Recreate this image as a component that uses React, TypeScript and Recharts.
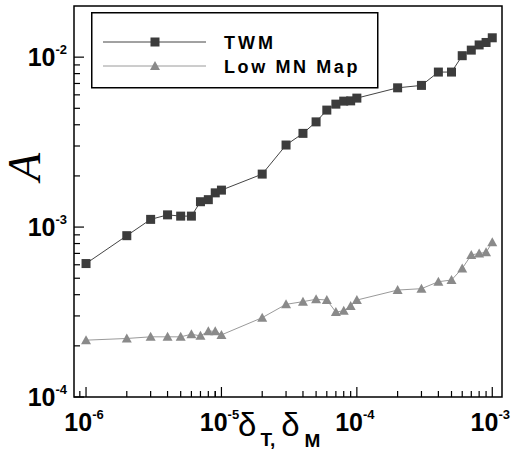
import {
  LineChart,
  Line,
  XAxis,
  YAxis,
  Legend,
  ReferenceArea,
} from "recharts"

// delta values (x) shared by both series
const deltas = [
  1e-6, 2e-6, 3e-6, 4e-6, 5e-6, 6e-6, 7e-6, 8e-6, 9e-6,
  1e-5, 2e-5, 3e-5, 4e-5, 5e-5, 6e-5, 7e-5, 8e-5, 9e-5,
  1e-4, 2e-4, 3e-4, 4e-4, 5e-4, 6e-4, 7e-4, 8e-4, 9e-4,
  1e-3,
]

const twm = [
  6.1e-4, 8.9e-4, 1.11e-3, 1.18e-3, 1.16e-3, 1.16e-3, 1.41e-3, 1.45e-3, 1.59e-3,
  1.65e-3, 2.05e-3, 3.04e-3, 3.56e-3, 4.16e-3, 4.88e-3, 5.29e-3, 5.51e-3, 5.53e-3,
  5.74e-3, 6.6e-3, 6.82e-3, 8.17e-3, 8.17e-3, 1.02e-2, 1.1e-2, 1.18e-2, 1.22e-2,
  1.3e-2,
]

const lowMnMap = [
  2.16e-4, 2.21e-4, 2.26e-4, 2.26e-4, 2.26e-4, 2.34e-4, 2.29e-4, 2.44e-4, 2.44e-4,
  2.32e-4, 2.93e-4, 3.51e-4, 3.64e-4, 3.76e-4, 3.72e-4, 3.16e-4, 3.22e-4, 3.43e-4,
  3.72e-4, 4.26e-4, 4.34e-4, 4.77e-4, 4.88e-4, 5.71e-4, 6.85e-4, 7.0e-4, 7.1e-4,
  8.13e-4,
]

const xMajor = [1e-6, 1e-5, 1e-4, 1e-3]
const yMajor = [1e-4, 1e-3, 1e-2]
const xDomain = [8.15e-7, 1.18e-3]
const yDomain = [1e-4, 2e-2]

const withMinors = (majors: number[], lo: number, hi: number) => {
  const out: number[] = []
  majors.forEach((m) => {
    for (let k = 1; k < 10; k++) out.push(m * k)
    out.push(m / 10 * 9)
  })
  return Array.from(new Set(out)).filter((v) => v > lo && v < hi).sort((a, b) => a - b)
}

const xTicks = withMinors(xMajor, xDomain[0] * 1.01, xDomain[1])
const yTicks = withMinors(yMajor, yDomain[0] * 0.99, yDomain[1] * 0.99)

const data = deltas.map((d, i) => ({ d, twm: twm[i], low: lowMnMap[i] }))

const FONT = "'Liberation Sans', Arial, sans-serif"

const isMajor = (v: number) => Math.abs(Math.log10(v) - Math.round(Math.log10(v))) < 1e-6

const XTick = (props: any) => {
  const { x, y, payload } = props
  const v = payload.value
  const major = isMajor(v)
  return (
    <g>
      <line x1={x} x2={x} y1={y} y2={y - (major ? 10 : 6)} stroke="#000" strokeWidth={1.2} />
      {major && (
        <text x={x - 2} y={y + 34} textAnchor="middle" fontFamily={FONT} fontSize={25} fontWeight="bold" fill="#000">
          10<tspan fontSize={13} dy={-12}>{String(Math.round(Math.log10(v)))}</tspan>
        </text>
      )}
    </g>
  )
}

const YTick = (props: any) => {
  const { x, y, payload } = props
  const v = payload.value
  const major = isMajor(v)
  return (
    <g>
      <line x1={x} x2={x + (major ? 10 : 6)} y1={y} y2={y} stroke="#000" strokeWidth={1.2} />
      {major && (
        <text x={x - 7} y={y + 9} textAnchor="end" fontFamily={FONT} fontSize={25} fontWeight="bold" fill="#000">
          10<tspan fontSize={13} dy={-12}>{String(Math.round(Math.log10(v)))}</tspan>
        </text>
      )}
    </g>
  )
}

const Square = (p: any) => {
  if (p.cx == null) return null
  return <rect key={p.index} x={p.cx - 4.5} y={p.cy - 4.5} width={9} height={9} fill="#3c3c3c" />
}

const Triangle = (p: any) => {
  if (p.cx == null) return null
  const { cx, cy } = p
  return (
    <polygon
      key={p.index}
      points={`${cx},${cy - 5} ${cx - 5},${cy + 4} ${cx + 5},${cy + 4}`}
      fill="#8a8a8a"
    />
  )
}

const LegendBox = () => (
  <svg width={288} height={77} style={{ display: "block" }}>
    <rect x={0.75} y={0.75} width={286} height={75} fill="#fff" stroke="#000" strokeWidth={1.5} />
    <line x1={12} x2={115} y1={30} y2={30} stroke="#444" strokeWidth={1} />
    <rect x={59.5} y={25.5} width={9} height={9} fill="#3c3c3c" />
    <line x1={12} x2={115} y1={54} y2={54} stroke="#9a9a9a" strokeWidth={1} />
    <polygon points="64,49 59,58 69,58" fill="#8a8a8a" />
    <text x={133} y={37} fontFamily={FONT} fontSize={18} fontWeight="bold" letterSpacing={3} fill="#000">
      TWM
    </text>
    <text x={133} y={61} fontFamily={FONT} fontSize={18} fontWeight="bold" letterSpacing={2.6} fill="#000">
      Low MN Map
    </text>
  </svg>
)

export default function App() {
  return (
    <div style={{ position: "absolute", left: 0, top: 0, width: 512, height: 451, background: "#fff" }}>
      <LineChart width={512} height={451} data={data} margin={{ top: 6, right: 10, left: 0, bottom: 0 }}>
        <XAxis
          dataKey="d"
          type="number"
          scale="log"
          domain={xDomain}
          allowDataOverflow
          ticks={xTicks}
          interval={0}
          tick={<XTick />}
          tickLine={false}
          tickSize={0}
          tickMargin={0}
          axisLine={false}
          height={54}
        />
        <YAxis
          type="number"
          scale="log"
          domain={yDomain}
          allowDataOverflow
          ticks={yTicks}
          interval={0}
          tick={<YTick />}
          tickLine={false}
          tickSize={0}
          tickMargin={0}
          axisLine={false}
          width={74}
        />
        <Legend
          layout="vertical"
          align="center"
          verticalAlign="middle"
          content={<LegendBox />}
          wrapperStyle={{ position: "absolute", left: 91, top: 12, width: 288, height: 77 }}
        />
        <Line
          dataKey="low"
          name="Low MN Map"
          stroke="#9a9a9a"
          strokeWidth={1}
          dot={<Triangle />}
          isAnimationActive={false}
        />
        <Line
          dataKey="twm"
          name="TWM"
          stroke="#444"
          strokeWidth={1}
          dot={<Square />}
          isAnimationActive={false}
        />
        <ReferenceArea
          x1={xDomain[0]}
          x2={xDomain[1]}
          y1={yDomain[0]}
          y2={yDomain[1]}
          fill="none"
          stroke="#000"
          strokeWidth={1.5}
          ifOverflow="visible"
        />
      </LineChart>
      <svg width={512} height={451} style={{ position: "absolute", left: 0, top: 0, pointerEvents: "none" }}>
        <text x={40} y={167} transform="rotate(-90 40 167)" textAnchor="middle" fontFamily="'Liberation Serif', serif" fontStyle="italic" fontSize={46} fill="#000">
          A
        </text>
        <text x={238} y={436} fontFamily={FONT} fontSize={33} fill="#000">
          δ<tspan dx={4} dy={10} fontSize={19} fontWeight="bold">T,</tspan>
          <tspan dx={6} dy={-10} fontSize={33} fontWeight="normal">δ</tspan>
          <tspan dx={5} dy={11} fontSize={19} fontWeight="bold">M</tspan>
        </text>
      </svg>
    </div>
  )
}
